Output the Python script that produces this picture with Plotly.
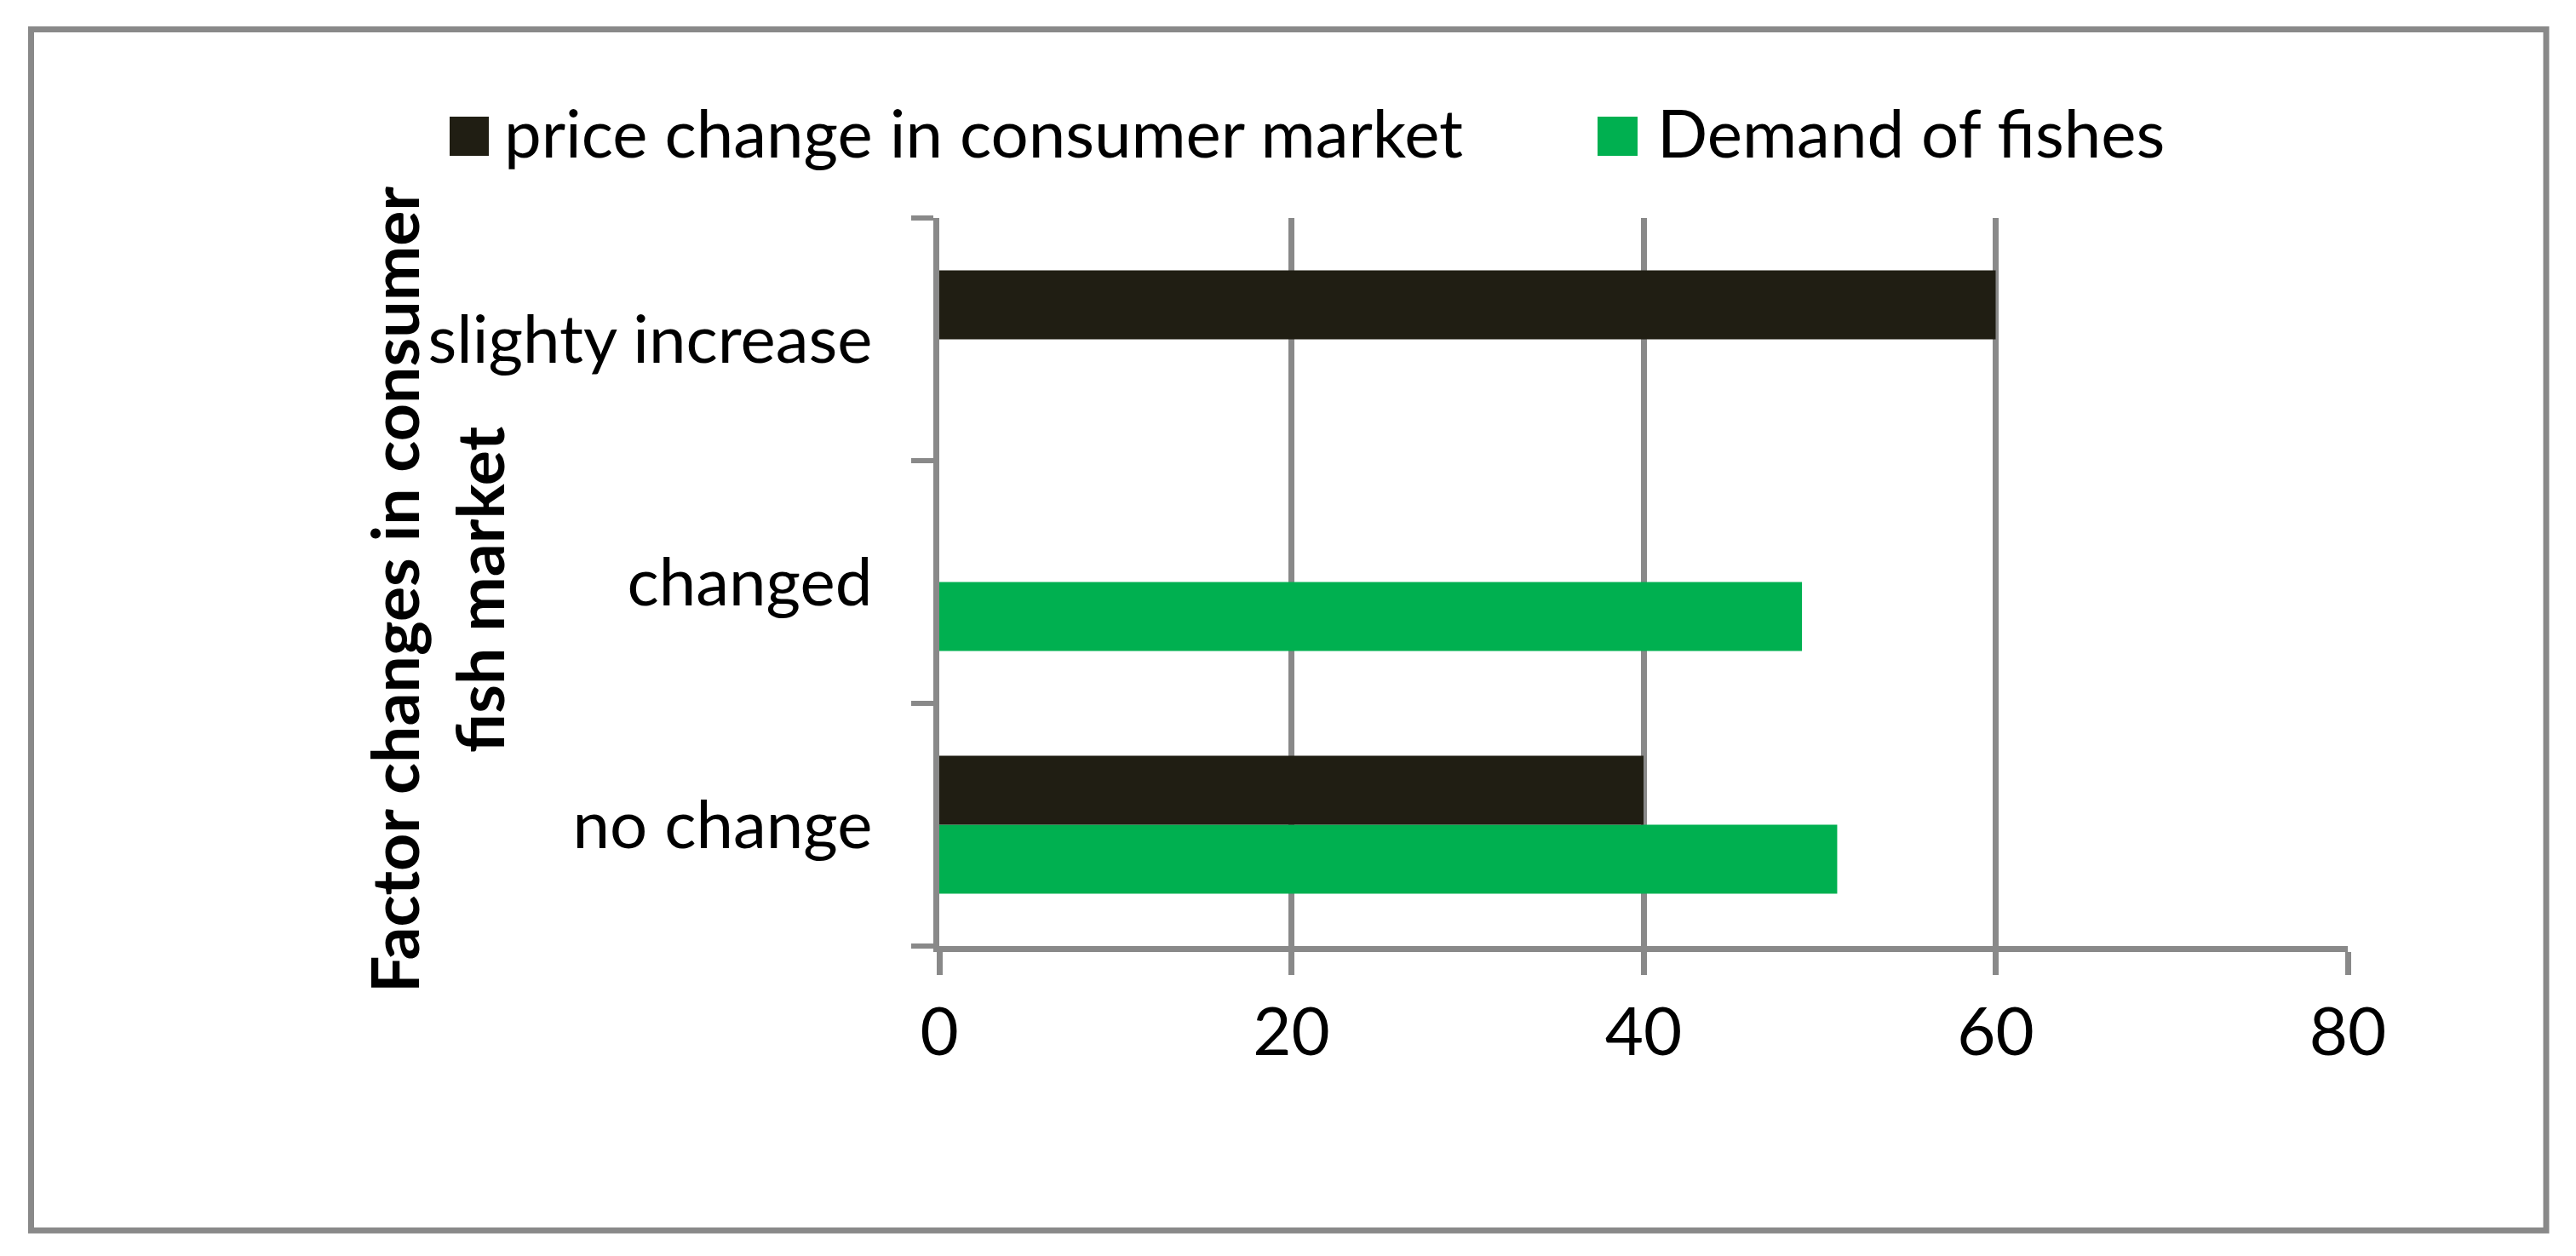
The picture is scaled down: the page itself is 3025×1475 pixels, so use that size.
import plotly.graph_objects as go

categories = ["no change", "changed", "slighty increase"]
price_change = [40, None, 60]
demand_fishes = [51, 49, None]
series_names = ["price change in consumer market", "Demand of fishes"]
x_ticks = [0, 20, 40, 60, 80]
axis_title = "Factor changes in consumer<br>fish market"

C_PRICE = "#201e13"
C_DEMAND = "#00b050"
GREY = "#898989"
FONT = "Lato, 'Open Sans', sans-serif"

W, H = 3025, 1475
O = 8  # default page body margin
L, R, T, B = 1103, 2757, 256, 1111
PW, PH = R - L, B - T


def px(x):
    return (x - L) / PW


def py(y):
    return (B - y) / PH


fig = go.Figure()
fig.add_trace(go.Bar(y=categories, x=demand_fishes, orientation="h",
                     name=series_names[1], marker=dict(color=C_DEMAND, line=dict(width=0)),
                     showlegend=False))
fig.add_trace(go.Bar(y=categories, x=price_change, orientation="h",
                     name=series_names[0], marker=dict(color=C_PRICE, line=dict(width=0)),
                     showlegend=False))

shapes = [
    dict(type="rect", xref="paper", yref="paper", x0=px(36.5), x1=px(2990), y0=py(1445), y1=py(34.5),
         line=dict(color=GREY, width=7), fillcolor="rgba(0,0,0,0)", layer="below"),
    dict(type="rect", xref="paper", yref="paper", x0=px(528), x1=px(574), y0=py(183), y1=py(137),
         line=dict(width=0), fillcolor=C_PRICE),
    dict(type="rect", xref="paper", yref="paper", x0=px(1876), x1=px(1923), y0=py(183), y1=py(137),
         line=dict(width=0), fillcolor=C_DEMAND),
]
annotations = [
    dict(text=series_names[0], xref="paper", yref="paper", x=px(590), y=py(155),
         xanchor="left", yanchor="middle", showarrow=False, font=dict(family=FONT, size=78, color="black")),
    dict(text=series_names[1], xref="paper", yref="paper", x=px(1944), y=py(155),
         xanchor="left", yanchor="middle", showarrow=False, font=dict(family=FONT, size=78, color="black")),
    dict(text="<b>" + axis_title + "</b>", xref="paper", yref="paper", x=px(512), y=py(693),
         xanchor="center", yanchor="middle", textangle=-90, showarrow=False,
         font=dict(family=FONT, size=77, color="black")),
]

fig.update_layout(
    width=W - 2 * O, height=H - 2 * O,
    margin=dict(l=L - O, r=W - O - R, t=T - O, b=H - O - B, pad=0),
    paper_bgcolor="white", plot_bgcolor="white",
    barmode="group", bargap=0.432, bargroupgap=0,
    showlegend=False,
    shapes=shapes, annotations=annotations,
    font=dict(family=FONT, size=78, color="black"),
)
fig.update_xaxes(range=[0, 80], tickvals=x_ticks, ticktext=[str(v) for v in x_ticks],
                 showgrid=True, gridcolor=GREY, gridwidth=7,
                 showline=True, linecolor=GREY, linewidth=7,
                 ticks="outside", ticklen=27, tickwidth=7, tickcolor=GREY,
                 zeroline=False, tickfont=dict(family=FONT, size=78, color="black"))
fig.update_yaxes(categoryorder="array", categoryarray=categories,
                 showgrid=False, showline=True, linecolor=GREY, linewidth=7,
                 ticks="outside", tickson="boundaries", ticklen=26, tickwidth=6, tickcolor=GREY,
                 ticklabelstandoff=56, zeroline=False,
                 tickfont=dict(family=FONT, size=78, color="black"))

fig.write_html("out.html")
